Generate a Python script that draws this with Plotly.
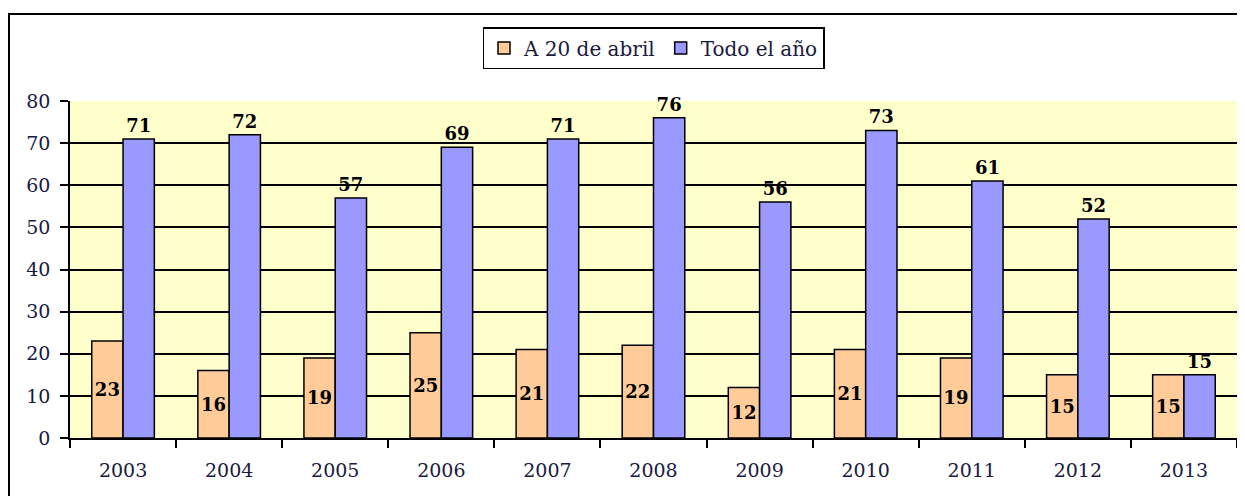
import plotly.graph_objects as go

years = ["2003", "2004", "2005", "2006", "2007", "2008", "2009", "2010", "2011", "2012", "2013"]
abril = [23, 16, 19, 25, 21, 22, 12, 21, 19, 15, 15]
todo = [71, 72, 57, 69, 71, 76, 56, 73, 61, 52, 15]

W, H = 1245, 496
OFF = 8  # page body margin offset
ml, mt = 70 - OFF, 101 - OFF
mr = W - (1237 - OFF)
mb = H - (438 - OFF)
pw, ph = W - ml - mr, H - mt - mb

def px_x(x):
    return (x - OFF - ml) / pw

def px_y(y):
    return (H - mb - (y - OFF)) / ph

serif = "DejaVu Serif, Liberation Serif, serif"
txtcol = "#1a1a40"

fig = go.Figure()
fig.add_trace(go.Bar(
    x=years, y=abril, name="A 20 de abril",
    marker=dict(color="#FFCC99", line=dict(color="black", width=1.5)),
    text=abril, textposition="inside", insidetextanchor="middle",
    textfont=dict(family=serif, size=18, color="black", weight="bold"),
    textangle=0,
))
fig.add_trace(go.Bar(
    x=years, y=todo, name="Todo el año",
    marker=dict(color="#9999FF", line=dict(color="black", width=1.5)),
    text=todo, textposition="outside",
    textfont=dict(family=serif, size=18, color="black", weight="bold"),
    textangle=0, cliponaxis=False,
))

fig.update_layout(
    width=W, height=H,
    margin=dict(l=ml, r=mr, t=mt, b=mb),
    paper_bgcolor="white",
    plot_bgcolor="#FFFFCC",
    barmode="group",
    bargap=0.41,
    bargroupgap=0,
    font=dict(family=serif, color=txtcol),
    showlegend=True,
    legend=dict(
        orientation="h", x=0.5, xanchor="center", y=px_y(27), yanchor="top",
        bordercolor="black", borderwidth=1.5, bgcolor="white",
        font=dict(family=serif, size=20, color=txtcol),
        itemwidth=30, traceorder="normal",
    ),
    xaxis=dict(
        showline=True, linecolor="black", linewidth=1.5,
        ticks="outside", tickson="boundaries", ticklen=8, tickcolor="black", tickwidth=1.5,
        tickfont=dict(family=serif, size=19, color=txtcol),
        ticklabelstandoff=14,
        showgrid=False,
    ),
    yaxis=dict(
        range=[0, 80], dtick=10,
        showline=True, linecolor="black", linewidth=1.5, mirror=True,
        ticks="outside", ticklen=8, tickcolor="black", tickwidth=1.5,
        tickfont=dict(family=serif, size=19, color=txtcol),
        ticklabelstandoff=6,
        showgrid=True, gridcolor="black", gridwidth=1.5,
        zeroline=False,
    ),
    shapes=[dict(
        type="rect", xref="paper", yref="paper",
        x0=px_x(9), x1=px_x(1241), y0=px_y(510), y1=px_y(14),
        line=dict(color="black", width=2), layer="below",
    )],
)

fig.write_html("out.html")
